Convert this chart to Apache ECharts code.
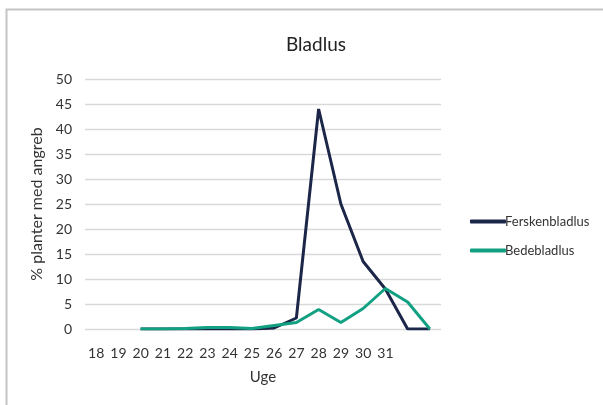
<!DOCTYPE html>
<html>
<head>
<meta charset="utf-8">
<script src="https://cdn.jsdelivr.net/npm/echarts@6/dist/echarts.min.js"></script>
<style>
html,body{margin:0;padding:0;background:#fff;}
#c{width:603px;height:405px;}
</style>
</head>
<body>
<div id="c"></div>
<script>
const weeks = ['18','19','20','21','22','23','24','25','26','27','28','29','30','31','',''];
const ferskenbladlus = [null, null, 0, 0, 0, 0, 0, 0, 0.2, 2.2, 44, 25, 13.5, 8, 0, 0];
const bedebladlus = [null, null, 0, 0, 0.1, 0.3, 0.3, 0.1, 0.7, 1.3, 3.9, 1.3, 4.1, 8.1, 5.4, 0];
const yTicks = [0, 5, 10, 15, 20, 25, 30, 35, 40, 45, 50];

const chart = echarts.init(document.getElementById('c'), null, {renderer: 'canvas'});
const font = 'Lato, "Noto Sans", sans-serif';
chart.setOption({
  backgroundColor: '#fff',
  animation: false,
  title: {
    text: 'Bladlus', left: 311, top: 30, textAlign: 'center',
    textStyle: {fontFamily: font, fontSize: 19, fontWeight: 'normal', color: '#222'}
  },
  graphic: [{
    type: 'rect', shape: {x: 6.5, y: 9.5, width: 620, height: 420},
    style: {fill: 'none', stroke: '#c4c4c4', lineWidth: 2}, silent: true
  }],
  legend: {
    orient: 'vertical', left: 465, top: 210, itemGap: 16,
    itemWidth: 36, itemHeight: 4, icon: 'roundRect',
    textStyle: {fontFamily: font, fontSize: 13, color: '#333', padding: [0, 0, 0, -6]},
    data: ['Ferskenbladlus', 'Bedebladlus']
  },
  grid: {left: 85, right: 162, top: 79, bottom: 76, containLabel: false},
  xAxis: {
    type: 'category', data: weeks, boundaryGap: true,
    name: 'Uge', nameLocation: 'middle', nameGap: 41,
    nameTextStyle: {fontFamily: font, fontSize: 15, color: '#333'},
    axisLine: {show: false}, axisTick: {show: false},
    axisLabel: {fontFamily: font, fontSize: 14, color: '#333', margin: 17, interval: 0}
  },
  yAxis: {
    type: 'value', min: yTicks[0], max: yTicks[yTicks.length - 1], interval: 5,
    name: '% planter med angreb', nameLocation: 'middle', nameGap: 32,
    nameTextStyle: {fontFamily: font, fontSize: 16, color: '#333'},
    axisLine: {show: false}, axisTick: {show: false},
    axisLabel: {fontFamily: font, fontSize: 14, color: '#333', margin: 13},
    splitLine: {lineStyle: {color: '#d9d9d9', width: 1.3}}
  },
  series: [
    {name: 'Ferskenbladlus', type: 'line', data: ferskenbladlus, showSymbol: false,
     lineStyle: {width: 3, color: '#1b2648'}, itemStyle: {color: '#1b2648'}},
    {name: 'Bedebladlus', type: 'line', data: bedebladlus, showSymbol: false,
     lineStyle: {width: 3, color: '#12a083'}, itemStyle: {color: '#12a083'}}
  ]
});
</script>
</body>
</html>
